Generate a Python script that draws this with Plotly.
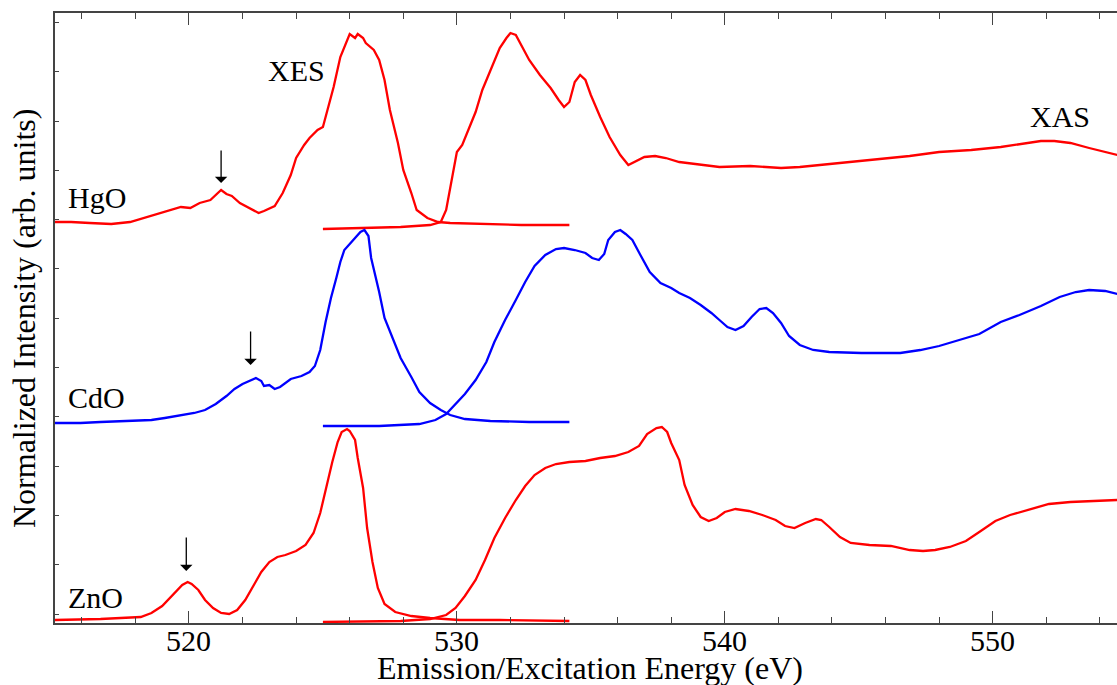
import plotly.graph_objects as go

# ---------------- data (energy in eV, intensity in arb. units, offsets included) ----------------
hgo_xes_e = [515.0, 515.6, 516.3, 517.1, 517.8, 518.6, 519.1, 519.7, 520.05, 520.4, 520.8, 521.0, 521.2, 521.4,
             521.6, 521.9, 522.3, 522.6, 522.8, 523.2, 523.5, 523.8, 524.0, 524.3, 524.5, 524.8, 525.0, 525.2,
             525.4, 525.65, 525.9, 526.0, 526.2, 526.3, 526.5, 526.6, 526.9, 527.1, 527.3, 527.5, 527.8, 528.0,
             528.3, 528.5, 528.9, 529.3, 529.75, 530.9, 532.4, 534.2]
hgo_xes_i = [40.1, 40.1, 40.0, 39.9, 40.1, 40.7, 41.1, 41.6, 41.5, 42.0, 42.3, 42.8, 43.3, 42.9,
             42.7, 42.0, 41.4, 41.0, 41.2, 41.7, 43.0, 44.8, 46.5, 47.8, 48.5, 49.3, 49.6, 51.6,
             53.6, 56.6, 58.3, 58.9, 58.5, 58.9, 58.5, 58.0, 57.3, 56.3, 54.3, 51.3, 48.0, 45.3,
             43.0, 41.3, 40.5, 40.1, 40.0, 39.9, 39.8, 39.8]

hgo_xas_e = [525.0, 526.4, 527.9, 529.0, 529.4, 529.6, 529.8, 530.0, 530.2, 530.4, 530.7, 530.95, 531.25, 531.6,
             531.85, 532.0, 532.2, 532.4, 532.7, 533.1, 533.5, 533.8, 534.0, 534.2, 534.4, 534.6, 534.8, 535.0,
             535.35, 535.7, 536.1, 536.4, 536.65, 537.0, 537.4, 537.8, 538.3, 539.1, 539.8, 540.95, 542.1, 542.8,
             543.6, 544.7, 545.8, 546.9, 548.0, 549.2, 550.3, 551.2, 551.8, 552.3, 552.9, 553.6, 554.65]
hgo_xas_i = [39.4, 39.5, 39.6, 39.8, 40.1, 41.3, 44.3, 47.1, 47.8, 49.1, 51.1, 53.3, 55.3, 57.5,
             58.5, 59.0, 58.8, 57.8, 56.3, 54.8, 53.5, 52.3, 51.6, 52.1, 54.1, 54.8, 54.3, 52.8,
             50.6, 48.6, 46.8, 45.8, 46.1, 46.6, 46.7, 46.5, 46.1, 45.8, 45.6, 45.7, 45.5, 45.6,
             45.8, 46.1, 46.4, 46.7, 47.1, 47.3, 47.6, 48.0, 48.2, 48.2, 48.0, 47.5, 46.8]

cdo_xes_e = [515.0, 515.95, 516.7, 517.8, 518.6, 519.1, 519.7, 520.2, 520.6, 521.0, 521.4, 521.7, 522.0, 522.3,
             522.5, 522.7, 522.8, 523.0, 523.2, 523.4, 523.8, 524.2, 524.5, 524.7, 524.9, 525.1, 525.3, 525.5,
             525.65, 525.8, 526.0, 526.2, 526.4, 526.55, 526.7, 526.8, 527.1, 527.3, 527.6, 527.9, 528.3, 528.6,
             529.0, 529.4, 529.75, 530.3, 531.25, 532.7, 534.2]
cdo_xes_i = [20.0, 20.0, 20.1, 20.2, 20.3, 20.5, 20.8, 21.0, 21.3, 21.9, 22.7, 23.4, 23.9, 24.3,
             24.5, 24.2, 23.7, 23.8, 23.4, 23.6, 24.4, 24.7, 25.1, 25.7, 27.3, 30.1, 32.5, 34.5,
             36.1, 37.3, 37.9, 38.5, 39.1, 39.3, 38.7, 36.5, 33.1, 30.5, 28.5, 26.5, 24.6, 23.1,
             22.0, 21.3, 20.8, 20.4, 20.2, 20.1, 20.1]

cdo_xas_e = [525.0, 527.1, 528.6, 529.2, 529.6, 529.9, 530.3, 530.7, 531.1, 531.4, 531.8, 532.2, 532.55, 532.9,
             533.3, 533.7, 534.0, 534.4, 534.8, 535.05, 535.3, 535.5, 535.65, 535.9, 536.1, 536.3, 536.55, 536.85,
             537.2, 537.6, 538.0, 538.3, 538.7, 539.1, 539.5, 539.8, 540.1, 540.4, 540.7, 541.0, 541.3, 541.55,
             541.8, 542.1, 542.4, 542.8, 543.3, 543.9, 545.1, 546.55, 547.3, 548.0, 548.8, 549.5, 550.3, 551.0,
             551.8, 552.5, 553.1, 553.6, 554.2, 554.65]
cdo_xas_i = [19.7, 19.7, 19.9, 20.3, 20.9, 21.8, 22.9, 24.3, 26.1, 28.1, 30.3, 32.3, 34.1, 35.7,
             36.8, 37.4, 37.5, 37.3, 37.0, 36.5, 36.3, 36.9, 38.3, 39.1, 39.3, 38.9, 38.3, 36.8,
             35.1, 34.0, 33.5, 33.0, 32.5, 31.8, 31.0, 30.3, 29.6, 29.3, 29.7, 30.6, 31.4, 31.5,
             31.0, 30.0, 28.7, 27.8, 27.3, 27.1, 27.0, 27.0, 27.3, 27.7, 28.3, 28.9, 30.1, 30.8,
             31.7, 32.6, 33.1, 33.3, 33.2, 32.9]

zno_xes_e = [515.0, 516.7, 518.2, 518.6, 519.0, 519.3, 519.6, 519.75, 519.95, 520.1, 520.35, 520.6, 520.9, 521.2,
             521.5, 521.8, 522.1, 522.4, 522.7, 523.0, 523.3, 523.6, 524.0, 524.35, 524.65, 524.9, 525.1, 525.35,
             525.55, 525.7, 525.9, 526.0, 526.2, 526.3, 526.5, 526.65, 526.85, 527.05, 527.3, 527.7, 528.3, 529.0,
             530.1, 531.6, 534.2]
zno_xes_i = [0.3, 0.4, 0.6, 1.0, 1.7, 2.5, 3.3, 3.8, 4.1, 3.9, 3.3, 2.3, 1.5, 1.0,
             0.9, 1.3, 2.3, 3.7, 5.1, 6.1, 6.6, 6.8, 7.2, 7.8, 9.0, 11.0, 13.3, 16.1,
             18.1, 19.1, 19.4, 19.2, 18.3, 16.5, 13.5, 9.5, 6.1, 3.5, 1.9, 1.1, 0.7, 0.5,
             0.3, 0.3, 0.2]

zno_xas_e = [525.0, 527.9, 529.0, 529.6, 529.95, 530.3, 530.7, 531.05, 531.4, 531.8, 532.2, 532.55, 532.9, 533.3,
             533.7, 534.2, 534.8, 535.35, 535.9, 536.4, 536.8, 537.1, 537.45, 537.65, 537.85, 538.0, 538.3, 538.5,
             538.8, 539.1, 539.4, 539.7, 540.0, 540.4, 540.9, 541.4, 541.9, 542.25, 542.6, 543.0, 543.4, 543.6,
             543.9, 544.3, 544.7, 545.4, 546.2, 546.9, 547.4, 547.85, 548.4, 549.0, 549.5, 550.1, 550.65, 551.4,
             552.1, 552.9, 553.6, 554.65]
zno_xas_i = [0.1, 0.2, 0.4, 0.8, 1.5, 2.7, 4.3, 6.3, 8.5, 10.5, 12.3, 13.7, 14.8, 15.5,
             15.9, 16.1, 16.2, 16.5, 16.7, 17.1, 17.7, 18.9, 19.5, 19.6, 19.1, 18.0, 16.3, 13.8,
             11.8, 10.6, 10.2, 10.5, 11.1, 11.4, 11.2, 10.8, 10.3, 9.7, 9.5, 10.0, 10.4, 10.3,
             9.6, 8.6, 8.0, 7.8, 7.7, 7.3, 7.2, 7.3, 7.6, 8.2, 9.1, 10.2, 10.8, 11.4,
             11.9, 12.1, 12.2, 12.3]

# arrows marking the d-band features: (energy, tip intensity, tail intensity)
arrow_e = [521.2, 522.3, 519.9]
arrow_tip = [44.0, 25.8, 5.2]
arrow_tail = [47.4, 29.3, 8.7]

sample_names = ["HgO", "CdO", "ZnO"]
sample_label_e = [515.4, 515.4, 515.4]
sample_label_i = [42.6, 22.6, 2.6]

x_tick_vals = [520, 530, 540, 550]
x_tick_text = ["520", "530", "540", "550"]

RED = "#ff0000"
BLUE = "#0000ff"
FONT = "Liberation Serif, Times New Roman, serif"

fig = go.Figure()
series = [
    (hgo_xes_e, hgo_xes_i, RED), (hgo_xas_e, hgo_xas_i, RED),
    (cdo_xes_e, cdo_xes_i, BLUE), (cdo_xas_e, cdo_xas_i, BLUE),
    (zno_xes_e, zno_xes_i, RED), (zno_xas_e, zno_xas_i, RED),
]
for xs, ys, c in series:
    fig.add_trace(go.Scatter(x=xs, y=ys, mode="lines", line=dict(color=c, width=2.3),
                             showlegend=False, hoverinfo="skip"))

annotations = []
for e, tip, tail in zip(arrow_e, arrow_tip, arrow_tail):
    annotations.append(dict(x=e, y=tip, ax=e, ay=tail, xref="x", yref="y", axref="x", ayref="y",
                            showarrow=True, arrowhead=1, arrowsize=1.6, arrowwidth=1.3,
                            arrowcolor="black", text=""))
for name, e, v in zip(sample_names, sample_label_e, sample_label_i):
    annotations.append(dict(x=e, y=v, xref="x", yref="y", text=name, showarrow=False,
                            xanchor="left", yanchor="middle", font=dict(family=FONT, size=30, color="black")))
annotations.append(dict(x=524.0, y=55.3, xref="x", yref="y", text="XES", showarrow=False,
                        font=dict(family=FONT, size=30, color="black")))
annotations.append(dict(x=552.5, y=50.7, xref="x", yref="y", text="XAS", showarrow=False,
                        font=dict(family=FONT, size=30, color="black")))
# x tick labels placed at the tick values through the x scale
for tv, tt in zip(x_tick_vals, x_tick_text):
    annotations.append(dict(x=tv, y=-0.0285, xref="x", yref="paper", text=tt, showarrow=False,
                            xanchor="center", yanchor="middle",
                            font=dict(family=FONT, size=30, color="black")))
annotations.append(dict(x=0.504, y=-0.073, xref="paper", yref="paper", text="Emission/Excitation Energy (eV)",
                        showarrow=False, xanchor="center", yanchor="middle",
                        font=dict(family=FONT, size=32, color="black")))
annotations.append(dict(x=-0.0292, y=0.5, xref="paper", yref="paper", text="Normalized Intensity (arb. units)",
                        showarrow=False, textangle=-90, xanchor="center", yanchor="middle",
                        font=dict(family=FONT, size=32, color="black")))

fig.update_layout(
    width=1117, height=685,
    margin=dict(l=55, r=0, t=13, b=62),
    paper_bgcolor="white", plot_bgcolor="white",
    annotations=annotations,
    font=dict(family=FONT, size=30, color="black"),
)
fig.update_xaxes(range=[515.0, 554.64], tickmode="array", tickvals=x_tick_vals, showticklabels=False,
                 ticks="inside", ticklen=12, tickwidth=1.3, tickcolor="#444",
                 minor=dict(ticks="inside", ticklen=6, tickwidth=1.2, tickcolor="#444", dtick=2, tick0=520),
                 showline=True, linecolor="#444", linewidth=1.5, mirror="allticks",
                 showgrid=False, zeroline=False)
fig.update_yaxes(range=[0, 61.0], tickmode="linear", tick0=0.9, dtick=4.93,
                 ticks="inside", ticklen=4, tickwidth=1, tickcolor="#444",
                 showticklabels=False, showline=True, linecolor="#444", linewidth=1.5,
                 mirror=False, showgrid=False, zeroline=False)

fig.write_html("out.html")
